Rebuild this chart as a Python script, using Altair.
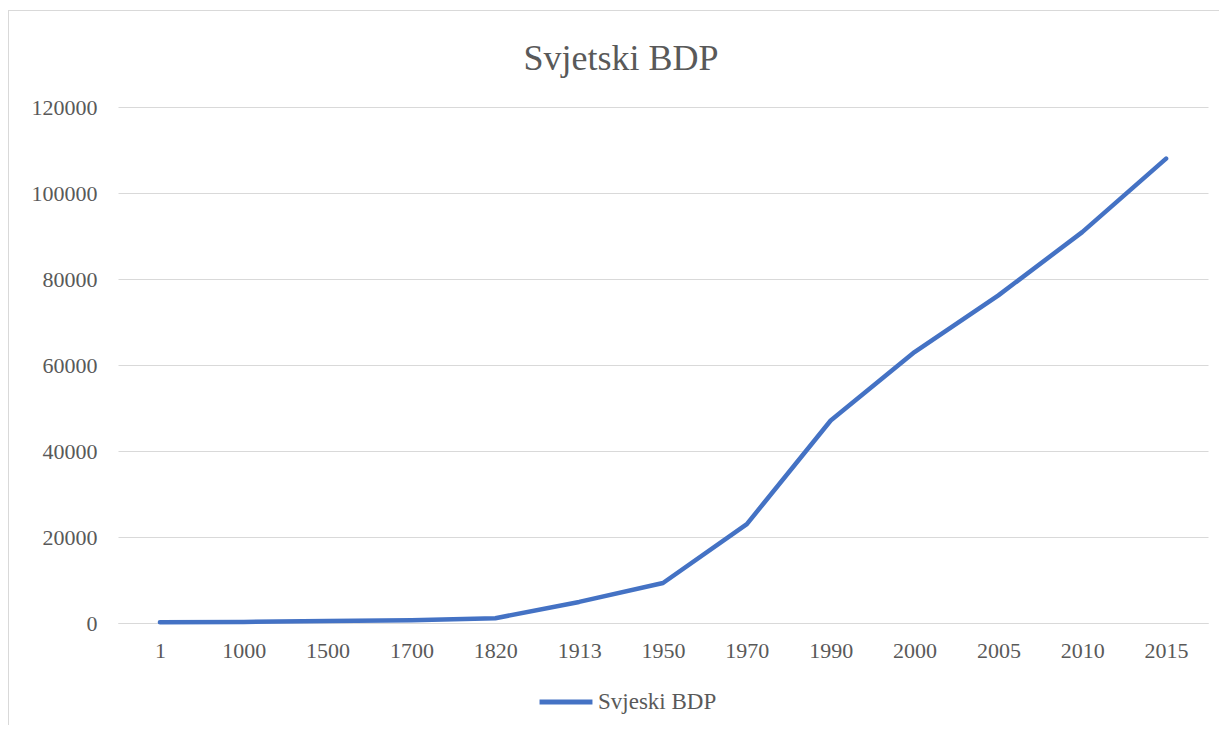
import altair as alt
import pandas as pd

years = ["1", "1000", "1500", "1700", "1820", "1913", "1950", "1970", "1990", "2000", "2005", "2010", "2015"]
values = [200, 260, 450, 650, 1100, 4900, 9300, 23000, 47100, 63000, 76200, 90900, 108000]
series = "Svjeski BDP"

df = pd.DataFrame({"Godina": years, "BDP": values, "Serija": [series] * len(years)})

FONT = "'Times New Roman', 'Liberation Serif', serif"
GRAY = "#595959"

line = alt.Chart(df).mark_line(strokeWidth=4.5, strokeCap="round", strokeJoin="round").encode(
    x=alt.X("Godina:O", sort=years, scale=alt.Scale(padding=0.5),
            axis=alt.Axis(title=None, labelAngle=0, ticks=False, domain=True, domainColor="#d9d9d9",
                          labelPadding=17, grid=False)),
    y=alt.Y("BDP:Q", scale=alt.Scale(domain=[0, 120000]),
            axis=alt.Axis(title=None, values=[0, 20000, 40000, 60000, 80000, 100000, 120000], format="d",
                          ticks=False, domain=False, gridColor="#d9d9d9", labelPadding=21)),
    color=alt.Color("Serija:N", scale=alt.Scale(range=["#4472C4"]),
                    legend=alt.Legend(title=None, orient="none", legendX=419, legendY=566,
                                      symbolType="stroke", symbolStrokeWidth=5, symbolSize=2800,
                                      labelOffset=3,
                                      labelFont=FONT, labelFontSize=23, labelColor=GRAY)),
)

border = alt.Chart(df).mark_rect(fill=None, stroke="#d9d9d9", strokeWidth=1).encode(
    x=alt.value(-109.5), x2=alt.value(1120), y=alt.value(-96.5), y2=alt.value(640)
)

chart = alt.layer(border, line).properties(
    width=1090, height=516,
    autosize=alt.AutoSizeParams(type="none"),
    padding={"left": 110, "top": 99, "right": 11, "bottom": 102},
    title=alt.TitleParams("Svjetski BDP", font=FONT, fontSize=36, fontWeight="normal", color=GRAY,
                          anchor="middle", dx=-42, offset=0, dy=68),
).configure(font=FONT).configure_view(stroke=None).configure_axis(
    labelFont=FONT, labelFontSize=22, labelColor=GRAY
).configure_legend(labelFont=FONT, labelFontSize=23, labelColor=GRAY)

chart.save("out.html", embed_options={"renderer": "svg", "actions": False})
